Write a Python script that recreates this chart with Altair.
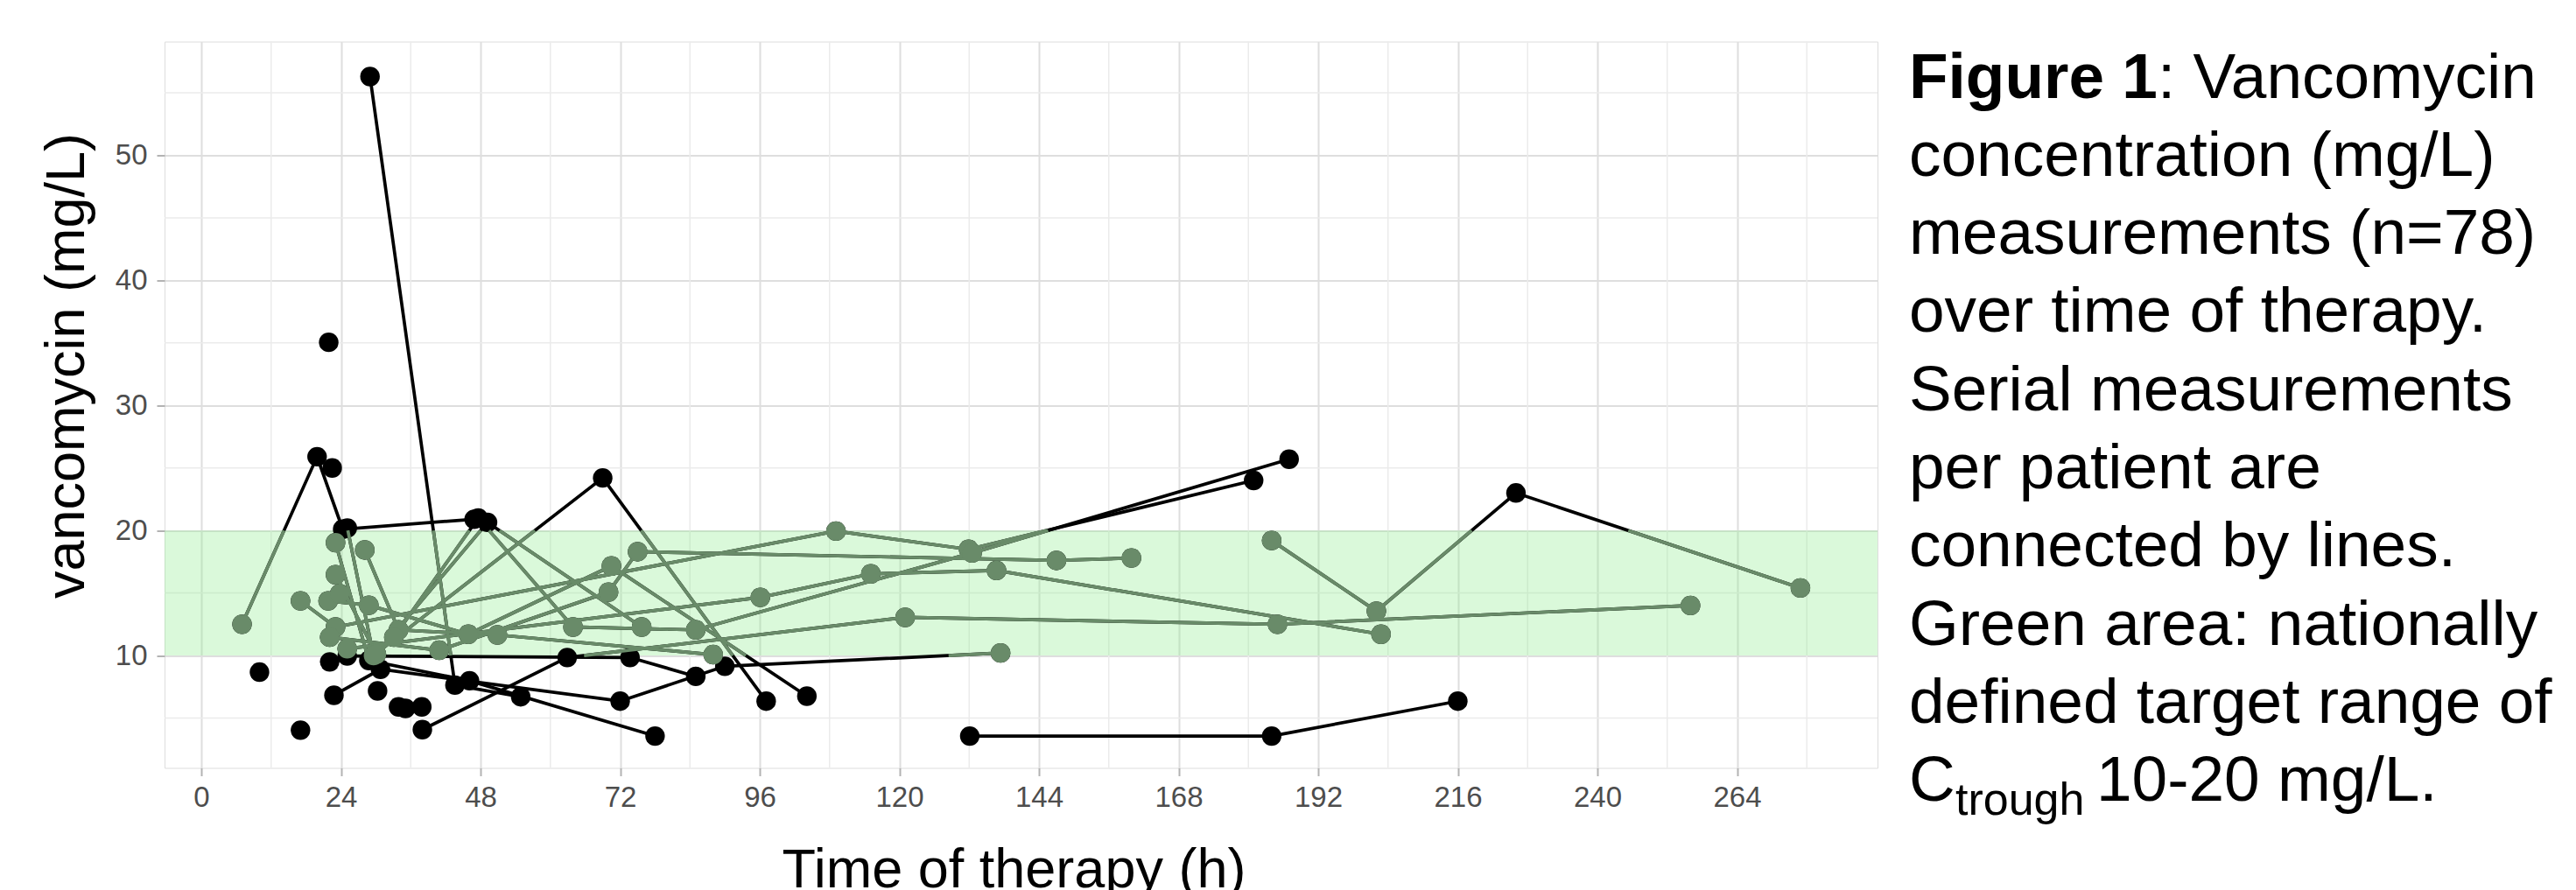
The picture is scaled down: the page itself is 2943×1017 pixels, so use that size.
import altair as alt
import pandas as pd

# ---------------- data ----------------
patient = [1, 1, 1, 1,
           2, 2, 2,
           3, 3, 3, 3, 3,
           4, 4, 4, 4,
           5, 5, 5, 5,
           6, 6, 6, 6, 6,
           7, 7, 7, 7,
           8, 8, 8,
           9, 9, 9, 9, 9,
           10, 10, 10,
           11, 11, 11, 11,
           12, 12, 12, 12,
           13, 13, 13, 13, 13,
           14, 14, 14, 14, 14, 14,
           15, 15, 15, 15, 15, 15,
           16, 16, 16, 16, 16,
           17, 18, 19, 20, 21, 22, 23, 24, 25, 26]
time_h = [7.0, 19.9, 24.3, 46.9,
          29.0, 43.6, 54.9,
          22.8, 30.8, 72.0, 90.0, 137.4,
          23.07, 28.8, 46.1, 78.0,
          25.1, 29.6, 69.0, 97.1,
          38.0, 62.9, 121.0, 185.0, 256.0,
          184.0, 202.0, 226.0, 274.9,
          132.1, 184.0, 216.0,
          17.05, 23.07, 109.1, 131.9, 180.9,
          25.08, 73.7, 85.0,
          28.1, 33.9, 50.9, 88.0,
          23.07, 30.1, 49.2, 75.7,
          21.8, 28.8, 45.9, 70.5, 104.1,
          22.07, 40.9, 70.0, 75.0, 147.0, 159.9,
          33.1, 47.6, 63.9, 85.0, 132.5, 187.0,
          25.08, 96.1, 115.1, 136.7, 202.8,
          10.0, 17.05, 21.9, 22.5, 22.07, 30.3, 33.9, 35.1, 37.9, 23.8]
vanco = [12.5, 25.9, 20.1, 20.9,
         56.3, 7.63, 6.7,
         6.82, 8.9, 6.35, 9.14, 10.2,
         19.02, 9.6, 7.98, 3.56,
         20.2, 10.0, 24.2, 6.35,
         4.07, 9.84, 13.05, 12.5, 14.0,
         19.2, 13.55, 23.0, 15.4,
         3.56, 3.56, 6.35,
         14.37, 12.28, 19.95, 18.49, 24.0,
         9.96, 9.84, 8.33,
         18.44, 12.05, 11.65, 10.07,
         16.46, 10.1, 20.65, 12.28,
         14.37, 14.02, 11.7, 17.16, 6.75,
         11.46, 10.42, 15.07, 18.3, 17.6, 17.8,
         11.46, 21.0, 12.28, 12.05, 18.2, 25.7,
         10.54, 14.65, 16.53, 16.8, 11.7,
         8.67, 4.03, 35.05, 25.0, 9.49, 7.17, 5.89, 5.77, 5.89, 14.95]

target_low = 10
target_high = 20
x_ticks = [0, 24, 48, 72, 96, 120, 144, 168, 192, 216, 240, 264]
x_minor = [12, 36, 60, 84, 108, 132, 156, 180, 204, 228, 252, 276]
y_ticks = [10, 20, 30, 40, 50]
y_minor = [5, 15, 25, 35, 45, 55]

caption_lines = ["concentration (mg/L)", "measurements (n=78)",
                 "over time of therapy.", "Serial measurements",
                 "per patient are", "connected by lines.",
                 "Green area: nationally", "defined target range of"]

# ---------------- derived tables ----------------
df = pd.DataFrame({"patient": patient, "time": time_h, "conc": vanco})

# portions of each patient's connecting segments lying inside the target band
segs = []
for pid, g in df.sort_values("time").groupby("patient"):
    pts = list(zip(g["time"], g["conc"]))
    for (x1, y1), (x2, y2) in zip(pts[:-1], pts[1:]):
        if y1 == y2:
            if target_low <= y1 <= target_high:
                segs.append((x1, y1, x2, y2))
            continue
        t_lo = (target_low - y1) / (y2 - y1)
        t_hi = (target_high - y1) / (y2 - y1)
        t0 = max(0.0, min(t_lo, t_hi))
        t1 = min(1.0, max(t_lo, t_hi))
        if t0 < t1:
            segs.append((x1 + t0 * (x2 - x1), y1 + t0 * (y2 - y1),
                         x1 + t1 * (x2 - x1), y1 + t1 * (y2 - y1)))
seg_df = pd.DataFrame(segs, columns=["x1", "y1", "x2", "y2"])

W, H = 1957, 830
FONT = "Liberation Sans"
GREEN = "#698B69"
LW = 3.7
PSIZE = 500

xs = alt.Scale(domain=[-6.32, 288.15], nice=False, zero=False)
ys = alt.Scale(domain=[1.01, 59.1], nice=False, zero=False)

x_axis = alt.Axis(values=x_ticks, title="Time of therapy (h)", grid=True,
                  gridColor="#DEDEDE", gridWidth=2, domain=False,
                  tickColor="#B3B3B3", tickWidth=2, tickSize=9,
                  labelFont=FONT, labelFontSize=33, labelColor="#4D4D4D",
                  labelPadding=9,
                  titleFont=FONT, titleFontSize=63, titleFontWeight="normal",
                  titleColor="black", titleX=970, titleY=136,
                  titleBaseline="alphabetic", titleAlign="center")
y_axis = alt.Axis(values=y_ticks, title="vancomycin (mg/L)", grid=True,
                  gridColor="#DEDEDE", gridWidth=2, domain=False,
                  tickColor="#B3B3B3", tickWidth=2, tickSize=9,
                  labelFont=FONT, labelFontSize=33, labelColor="#4D4D4D",
                  labelPadding=11,
                  titleFont=FONT, titleFontSize=63, titleFontWeight="normal",
                  titleColor="black", titleAngle=270, titleX=-93, titleY=370,
                  titleBaseline="alphabetic", titleAlign="center")

base = alt.Chart(df)

axes_layer = base.mark_point(opacity=0).encode(
    x=alt.X("time:Q", scale=xs, axis=x_axis),
    y=alt.Y("conc:Q", scale=ys, axis=y_axis),
)

minor_x = alt.Chart(pd.DataFrame({"v": x_minor})).mark_rule(
    color="#EBEBEB", strokeWidth=1.5).encode(x=alt.X("v:Q", scale=xs))
minor_y = alt.Chart(pd.DataFrame({"v": y_minor})).mark_rule(
    color="#EBEBEB", strokeWidth=1.5).encode(y=alt.Y("v:Q", scale=ys))

band = alt.Chart(pd.DataFrame({"lo": [target_low], "hi": [target_high]})).mark_rect(
    color="#90EE90", opacity=0.33).encode(
    y=alt.Y("lo:Q", scale=ys), y2="hi:Q",
    x=alt.value(0), x2=alt.value(W))

black_lines = base.mark_line(color="black", strokeWidth=LW).encode(
    x=alt.X("time:Q", scale=xs), y=alt.Y("conc:Q", scale=ys),
    detail="patient:N", order="time:Q")

black_pts = base.mark_circle(color="black", opacity=1, size=PSIZE).encode(
    x=alt.X("time:Q", scale=xs), y=alt.Y("conc:Q", scale=ys))

green_lines = alt.Chart(seg_df).mark_rule(color=GREEN, strokeWidth=LW).encode(
    x=alt.X("x1:Q", scale=xs), y=alt.Y("y1:Q", scale=ys),
    x2="x2:Q", y2="y2:Q")

green_pts = base.transform_filter(
    (alt.datum.conc >= target_low) & (alt.datum.conc <= target_high)
).mark_circle(color=GREEN, opacity=1, size=PSIZE).encode(
    x=alt.X("time:Q", scale=xs), y=alt.Y("conc:Q", scale=ys))

# caption to the right of the panel
CX = 1993
BASE0 = 64
STEP = 89.3
FS = 73
cap_layers = []
one = pd.DataFrame({"a": [0]})
cap_layers.append(alt.Chart(one).mark_text(
    text="Figure 1", font=FONT, fontSize=FS, fontWeight="bold",
    align="left", baseline="alphabetic", color="black").encode(
    x=alt.value(CX), y=alt.value(BASE0)))
cap_layers.append(alt.Chart(one).mark_text(
    text=": Vancomycin", font=FONT, fontSize=FS,
    align="left", baseline="alphabetic", color="black").encode(
    x=alt.value(CX + 284), y=alt.value(BASE0)))
for i, line in enumerate(caption_lines):
    cap_layers.append(alt.Chart(one).mark_text(
        text=line, font=FONT, fontSize=FS,
        align="left", baseline="alphabetic", color="black").encode(
        x=alt.value(CX), y=alt.value(BASE0 + STEP * (i + 1))))
last_y = BASE0 + STEP * 9
cap_layers.append(alt.Chart(one).mark_text(
    text="C", font=FONT, fontSize=FS, align="left", baseline="alphabetic",
    color="black").encode(x=alt.value(CX), y=alt.value(last_y)))
cap_layers.append(alt.Chart(one).mark_text(
    text="trough", font=FONT, fontSize=52, align="left", baseline="alphabetic",
    color="black").encode(x=alt.value(CX + 53), y=alt.value(last_y + 16)))
cap_layers.append(alt.Chart(one).mark_text(
    text="10-20 mg/L.", font=FONT, fontSize=FS, align="left",
    baseline="alphabetic", color="black").encode(
    x=alt.value(CX + 214), y=alt.value(last_y)))

chart = alt.layer(
    axes_layer, minor_x, minor_y, band, black_lines, black_pts,
    green_lines, green_pts, *cap_layers
).properties(
    width=W, height=H,
    autosize=alt.AutoSizeParams(type="none"),
    padding={"left": 180, "top": 39.5, "right": 780, "bottom": 140},
).configure_view(stroke="#B3B3B3", strokeWidth=2.5).configure(background="white")

chart.save("out.html", embed_options={"renderer": "svg", "actions": False})
